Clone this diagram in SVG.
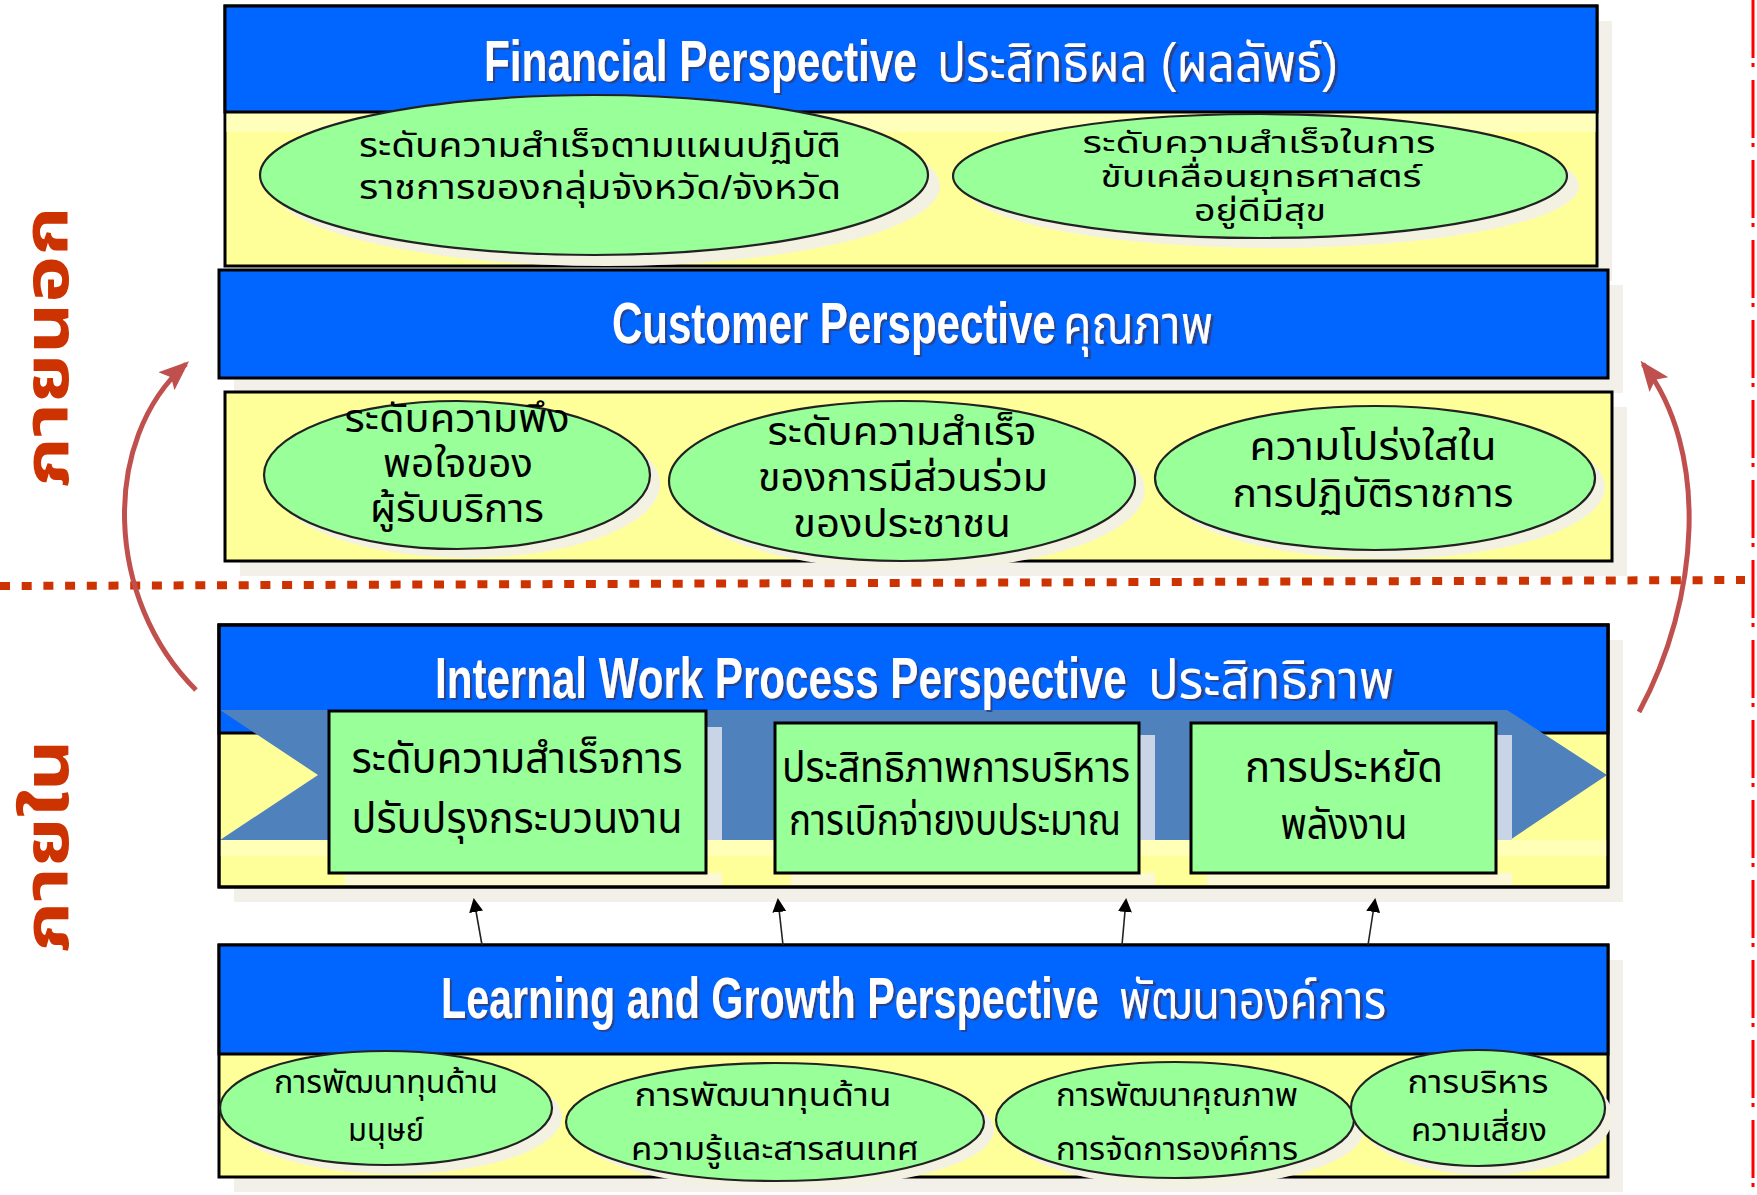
<svg xmlns="http://www.w3.org/2000/svg" width="1757" height="1195" viewBox="0 0 1757 1195">
<defs>
<style>
.bg{fill:#FFFFFF}
.sh{fill:#F2F0E9}
.hdr{fill:#0066FF;stroke:#000;stroke-width:3}
.panel{fill:#FFFF99;stroke:#000;stroke-width:3}
.band{fill:#FFFFFF;opacity:.35}
.ell{fill:#99FF99;stroke:#222;stroke-width:2.2}
.esh{fill:#F3F1E2}
.box{fill:#99FF99;stroke:#000;stroke-width:3}
.rsh{fill:#C9D4E6}
.ysh{fill:#FAF8D6}
.en{font-family:"Liberation Sans",Arial,sans-serif;font-weight:bold;font-size:58px;fill:#FFFFFF;filter:url(#ts)}
.thh{font-family:"Liberation Sans","Noto Sans Thai",sans-serif;font-size:54px;fill:#FFFFFF;filter:url(#ts)}
.t{font-family:"Liberation Sans","Noto Sans Thai",sans-serif;fill:#000;text-anchor:middle}
.s1{font-size:34px}
.s1b{font-size:30px}
.s2{font-size:40px}
.s3{font-size:42px}
.s4{font-size:32px}
.side{font-family:"Liberation Sans","Noto Sans Thai",sans-serif;font-weight:bold;font-size:62px;fill:#CC3300;text-anchor:middle}
.curve{fill:none;stroke:#C0504D;stroke-width:5}
.up{stroke:#222;stroke-width:1.6;fill:none}
</style>
<filter id="ts" x="-5%" y="-20%" width="110%" height="140%">
<feDropShadow dx="3" dy="2" stdDeviation="0.4" flood-color="#2E3F85" flood-opacity="0.9"/>
</filter>
<marker id="bighead" markerWidth="30" markerHeight="24" refX="26" refY="12" orient="auto" markerUnits="userSpaceOnUse">
<path d="M0,0 L30,12 L0,24 L6,12 z" fill="#C0504D"/>
</marker>
<marker id="blk" markerWidth="14" markerHeight="14" refX="12" refY="7" orient="auto" markerUnits="userSpaceOnUse">
<path d="M0,0 L14,7 L0,14 z" fill="#000"/>
</marker>
</defs>
<rect class="bg" x="0" y="0" width="1757" height="1195"/>

<g id="dividers">
<line x1="0" y1="586" x2="1745" y2="580" stroke="#CC3300" stroke-width="8" stroke-dasharray="10 11.7"/>
<line x1="1753" y1="0" x2="1753" y2="1195" stroke="#FF0000" stroke-width="3" stroke-dasharray="58 5 4 13"/>
</g>

<g id="side-labels">
<text class="side" transform="translate(68,347) rotate(-90)" textLength="281" lengthAdjust="spacingAndGlyphs">ภายนอก</text>
<text class="side" transform="translate(68,846) rotate(-90)" textLength="213" lengthAdjust="spacingAndGlyphs">ภายใน</text>
</g>

<g id="financial">
<rect class="sh" x="240" y="21" width="1372" height="260"/>
<rect class="panel" x="225" y="6" width="1372" height="260"/>
<rect class="band" x="226" y="112" width="1370" height="20"/>
<rect class="hdr" x="225" y="6" width="1372" height="106"/>
<text class="en" transform="translate(484,81) scale(0.73,1)" textLength="593" lengthAdjust="spacingAndGlyphs">Financial Perspective</text>
<text class="thh" x="937" y="81" textLength="401" lengthAdjust="spacingAndGlyphs">ประสิทธิผล (ผลลัพธ์)</text>
</g>
<g id="fin-1">
<ellipse class="esh" cx="606" cy="186" rx="334" ry="80"/>
<ellipse class="ell" cx="594" cy="175" rx="334" ry="80"/>
<text class="t s1"><tspan x="600" y="157" textLength="482" lengthAdjust="spacingAndGlyphs">ระดับความสำเร็จตามแผนปฏิบัติ</tspan><tspan x="600" y="199" textLength="482" lengthAdjust="spacingAndGlyphs">ราชการของกลุ่มจังหวัด/จังหวัด</tspan></text>
</g>
<g id="fin-2">
<ellipse class="esh" cx="1272" cy="186" rx="307" ry="62"/>
<ellipse class="ell" cx="1260" cy="176" rx="307" ry="62"/>
<text class="t s1b"><tspan x="1259" y="153" textLength="353" lengthAdjust="spacingAndGlyphs">ระดับความสำเร็จในการ</tspan><tspan x="1261" y="187" textLength="321" lengthAdjust="spacingAndGlyphs">ขับเคลื่อนยุทธศาสตร์</tspan><tspan x="1260" y="221" textLength="132" lengthAdjust="spacingAndGlyphs">อยู่ดีมีสุข</tspan></text>
</g>

<g id="customer">
<rect class="sh" x="234" y="285" width="1389" height="108"/>
<rect class="hdr" x="219" y="270" width="1389" height="108"/>
<text class="en" transform="translate(612,343) scale(0.725,1)" textLength="612" lengthAdjust="spacingAndGlyphs">Customer Perspective</text>
<text class="thh" x="1063" y="343" textLength="150" lengthAdjust="spacingAndGlyphs">คุณภาพ</text>
</g>
<g id="customer-panel">
<rect class="sh" x="240" y="407" width="1387" height="169"/>
<rect class="panel" x="225" y="392" width="1387" height="169"/>
</g>
<g id="cus-1">
<ellipse class="esh" cx="467" cy="484" rx="193" ry="74"/>
<ellipse class="ell" cx="457" cy="475" rx="193" ry="74"/>
<text class="t s2"><tspan x="457" y="432" textLength="225" lengthAdjust="spacingAndGlyphs">ระดับความพึง</tspan><tspan x="458" y="477" textLength="150" lengthAdjust="spacingAndGlyphs">พอใจของ</tspan><tspan x="457" y="522" textLength="174" lengthAdjust="spacingAndGlyphs">ผู้รับบริการ</tspan></text>
</g>
<g id="cus-2">
<ellipse class="esh" cx="912" cy="490" rx="233" ry="80"/>
<ellipse class="ell" cx="902" cy="481" rx="233" ry="80"/>
<text class="t s2"><tspan x="902" y="445" textLength="269" lengthAdjust="spacingAndGlyphs">ระดับความสำเร็จ</tspan><tspan x="903" y="491" textLength="290" lengthAdjust="spacingAndGlyphs">ของการมีส่วนร่วม</tspan><tspan x="902" y="537" textLength="218" lengthAdjust="spacingAndGlyphs">ของประชาชน</tspan></text>
</g>
<g id="cus-3">
<ellipse class="esh" cx="1385" cy="487" rx="220" ry="72"/>
<ellipse class="ell" cx="1375" cy="478" rx="220" ry="72"/>
<text class="t s2"><tspan x="1373" y="460" textLength="247" lengthAdjust="spacingAndGlyphs">ความโปร่งใสใน</tspan><tspan x="1373" y="507" textLength="281" lengthAdjust="spacingAndGlyphs">การปฏิบัติราชการ</tspan></text>
</g>

<g id="internal">
<rect class="sh" x="234" y="640" width="1389" height="262"/>
<rect class="panel" x="219" y="625" width="1389" height="262"/>
<rect class="hdr" x="219" y="625" width="1389" height="108"/>
<polygon points="220,710 1507,710 1607,775 1510,840 220,840 318,775" fill="#4F81BD"/>
<rect x="220" y="840" width="1387" height="16" fill="#FFFFFF" opacity=".3"/>
<rect x="219" y="625" width="1389" height="262" fill="none" stroke="#000" stroke-width="3"/>
<text class="en" transform="translate(435,698) scale(0.725,1)" textLength="954" lengthAdjust="spacingAndGlyphs">Internal Work Process Perspective</text>
<text class="thh" x="1148" y="698" textLength="246" lengthAdjust="spacingAndGlyphs">ประสิทธิภาพ</text>
</g>
<g id="int-1">
<rect class="rsh" x="706" y="727" width="16" height="113"/>
<rect class="ysh" x="345" y="873" width="377" height="12"/>
<rect class="box" x="329" y="711" width="377" height="162"/>
<text class="t s3"><tspan x="517" y="773" textLength="331" lengthAdjust="spacingAndGlyphs">ระดับความสำเร็จการ</tspan><tspan x="517" y="833" textLength="331" lengthAdjust="spacingAndGlyphs">ปรับปรุงกระบวนงาน</tspan></text>
</g>
<g id="int-2">
<rect class="rsh" x="1139" y="735" width="16" height="105"/>
<rect class="ysh" x="791" y="873" width="364" height="12"/>
<rect class="box" x="775" y="723" width="364" height="150"/>
<text class="t s3"><tspan x="956" y="782" textLength="348" lengthAdjust="spacingAndGlyphs">ประสิทธิภาพการบริหาร</tspan><tspan x="955" y="835" textLength="332" lengthAdjust="spacingAndGlyphs">การเบิกจ่ายงบประมาณ</tspan></text>
</g>
<g id="int-3">
<rect class="rsh" x="1497" y="735" width="15" height="105"/>
<rect class="ysh" x="1207" y="873" width="305" height="12"/>
<rect class="box" x="1191" y="723" width="305" height="150"/>
<text class="t s3"><tspan x="1344" y="782" textLength="198" lengthAdjust="spacingAndGlyphs">การประหยัด</tspan><tspan x="1344" y="839" textLength="127" lengthAdjust="spacingAndGlyphs">พลังงาน</tspan></text>
</g>

<g id="learning">
<rect class="sh" x="234" y="960" width="1389" height="232"/>
<rect class="panel" x="219" y="945" width="1389" height="232"/>
<rect class="hdr" x="219" y="945" width="1389" height="109"/>
<text class="en" transform="translate(441,1018) scale(0.711,1)" textLength="925" lengthAdjust="spacingAndGlyphs">Learning and Growth Perspective</text>
<text class="thh" x="1119" y="1018" textLength="267" lengthAdjust="spacingAndGlyphs">พัฒนาองค์การ</text>
</g>
<g id="lg-1">
<ellipse class="esh" cx="396" cy="1117" rx="166" ry="57"/>
<ellipse class="ell" cx="386" cy="1108" rx="166" ry="57"/>
<text class="t s4"><tspan x="386" y="1093" textLength="224" lengthAdjust="spacingAndGlyphs">การพัฒนาทุนด้าน</tspan><tspan x="386" y="1141" textLength="76" lengthAdjust="spacingAndGlyphs">มนุษย์</tspan></text>
</g>
<g id="lg-2">
<ellipse class="esh" cx="785" cy="1130" rx="209" ry="59"/>
<ellipse class="ell" cx="775" cy="1122" rx="209" ry="59"/>
<text class="t s4"><tspan x="763" y="1106" textLength="257" lengthAdjust="spacingAndGlyphs">การพัฒนาทุนด้าน</tspan><tspan x="775" y="1160" textLength="288" lengthAdjust="spacingAndGlyphs">ความรู้และสารสนเทศ</tspan></text>
</g>
<g id="lg-3">
<ellipse class="esh" cx="1185" cy="1129" rx="179" ry="58"/>
<ellipse class="ell" cx="1175" cy="1120" rx="179" ry="58"/>
<text class="t s4"><tspan x="1177" y="1106" textLength="242" lengthAdjust="spacingAndGlyphs">การพัฒนาคุณภาพ</tspan><tspan x="1177" y="1160" textLength="242" lengthAdjust="spacingAndGlyphs">การจัดการองค์การ</tspan></text>
</g>
<g id="lg-4">
<ellipse class="esh" cx="1486" cy="1117" rx="127" ry="58"/>
<ellipse class="ell" cx="1478" cy="1108" rx="127" ry="58"/>
<text class="t s4"><tspan x="1478" y="1093" textLength="141" lengthAdjust="spacingAndGlyphs">การบริหาร</tspan><tspan x="1479" y="1141" textLength="136" lengthAdjust="spacingAndGlyphs">ความเสี่ยง</tspan></text>
</g>

<g id="connectors">
<path class="curve" d="M196,690 C105,600 100,440 186,364" marker-end="url(#bighead)"/>
<path class="curve" d="M1639,712 C1700,600 1710,450 1643,364" marker-end="url(#bighead)"/>
<line class="up" x1="482" y1="945" x2="474" y2="900" marker-end="url(#blk)"/>
<line class="up" x1="783" y1="945" x2="778" y2="900" marker-end="url(#blk)"/>
<line class="up" x1="1122" y1="945" x2="1126" y2="900" marker-end="url(#blk)"/>
<line class="up" x1="1368" y1="945" x2="1375" y2="900" marker-end="url(#blk)"/>
</g>
</svg>
